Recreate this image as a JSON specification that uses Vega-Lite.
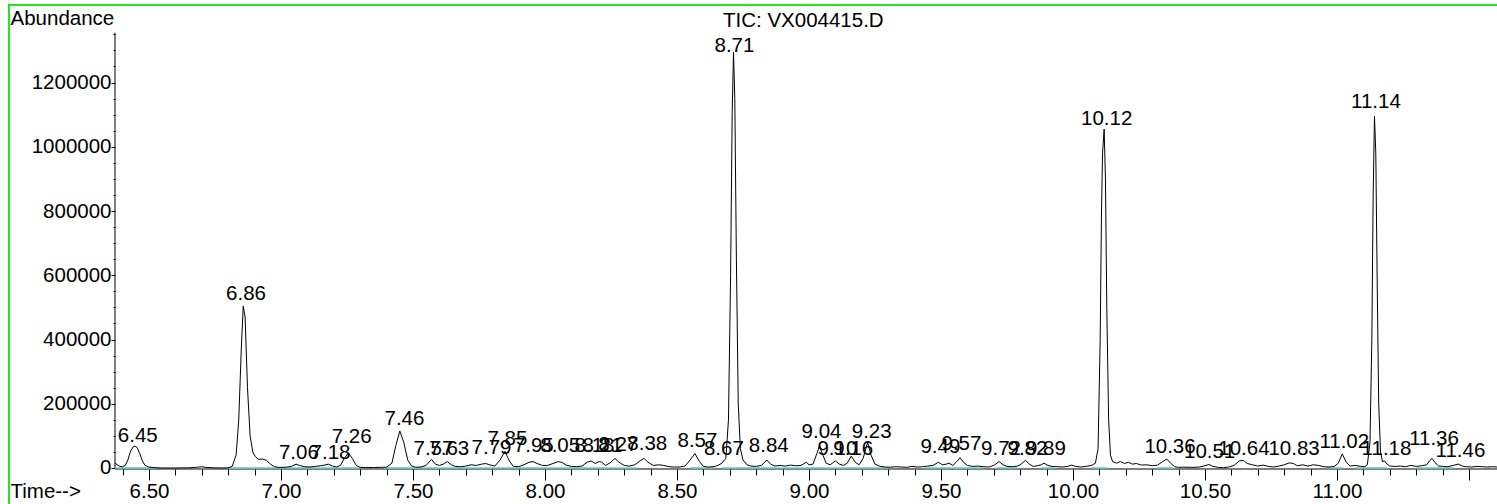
{
  "$schema": "https://vega.github.io/schema/vega-lite/v6.json",
  "width": 1488,
  "height": 499,
  "autosize": {"type": "none"},
  "padding": {"left": 9, "top": 5, "right": 0, "bottom": 0},
  "background": "white",
  "title": {"text": "TIC: VX004415.D", "anchor": "start", "frame": "group", "dx": 714, "offset": -40, "baseline": "middle", "font": "Liberation Sans", "fontSize": 20.5, "fontWeight": "normal", "color": "black"},
  "config": {"view": {"stroke": null}, "font": "Liberation Sans"},
  "datasets": {
    "trace": [
      {"t": 6.371, "a": 15000}, {"t": 6.38, "a": 10000}, {"t": 6.39, "a": 5000}, {"t": 6.40, "a": 4000}, {"t": 6.41, "a": 8000},
      {"t": 6.42, "a": 25000}, {"t": 6.43, "a": 52000}, {"t": 6.44, "a": 66000}, {"t": 6.447, "a": 68000}, {"t": 6.455, "a": 64000},
      {"t": 6.465, "a": 45000}, {"t": 6.475, "a": 22000}, {"t": 6.485, "a": 8000}, {"t": 6.50, "a": 3000}, {"t": 6.52, "a": 1000},
      {"t": 6.55, "a": 0}, {"t": 6.60, "a": 0}, {"t": 6.65, "a": 500}, {"t": 6.68, "a": 2000}, {"t": 6.70, "a": 4000},
      {"t": 6.72, "a": 1500}, {"t": 6.75, "a": 500}, {"t": 6.78, "a": 0}, {"t": 6.80, "a": 500}, {"t": 6.815, "a": 5000},
      {"t": 6.83, "a": 40000}, {"t": 6.84, "a": 150000}, {"t": 6.85, "a": 380000}, {"t": 6.857, "a": 504000}, {"t": 6.864, "a": 470000},
      {"t": 6.873, "a": 250000}, {"t": 6.883, "a": 100000}, {"t": 6.893, "a": 50000}, {"t": 6.903, "a": 35000}, {"t": 6.915, "a": 27000},
      {"t": 6.93, "a": 28000}, {"t": 6.945, "a": 24000}, {"t": 6.96, "a": 12000}, {"t": 6.975, "a": 4000}, {"t": 6.99, "a": 2000},
      {"t": 7.00, "a": 2000}, {"t": 7.02, "a": 2500}, {"t": 7.04, "a": 5000}, {"t": 7.057, "a": 12000}, {"t": 7.07, "a": 8000},
      {"t": 7.09, "a": 4000}, {"t": 7.11, "a": 3000}, {"t": 7.13, "a": 5000}, {"t": 7.15, "a": 7000}, {"t": 7.165, "a": 9000},
      {"t": 7.18, "a": 12000}, {"t": 7.195, "a": 6000}, {"t": 7.21, "a": 3000}, {"t": 7.225, "a": 8000}, {"t": 7.24, "a": 30000},
      {"t": 7.255, "a": 47000}, {"t": 7.27, "a": 30000}, {"t": 7.285, "a": 8000}, {"t": 7.30, "a": 2000}, {"t": 7.32, "a": 1500},
      {"t": 7.35, "a": 1500}, {"t": 7.38, "a": 2000}, {"t": 7.40, "a": 2500}, {"t": 7.42, "a": 15000}, {"t": 7.435, "a": 70000},
      {"t": 7.45, "a": 115000}, {"t": 7.465, "a": 80000}, {"t": 7.48, "a": 25000}, {"t": 7.495, "a": 6000}, {"t": 7.51, "a": 2500},
      {"t": 7.53, "a": 3000}, {"t": 7.55, "a": 8000}, {"t": 7.57, "a": 27000}, {"t": 7.585, "a": 12000}, {"t": 7.60, "a": 8000},
      {"t": 7.615, "a": 12000}, {"t": 7.63, "a": 20000}, {"t": 7.645, "a": 10000}, {"t": 7.66, "a": 5000}, {"t": 7.68, "a": 4000},
      {"t": 7.70, "a": 6000}, {"t": 7.72, "a": 10000}, {"t": 7.74, "a": 8000}, {"t": 7.76, "a": 12000}, {"t": 7.775, "a": 14000},
      {"t": 7.79, "a": 10000}, {"t": 7.81, "a": 6000}, {"t": 7.83, "a": 25000}, {"t": 7.848, "a": 52000}, {"t": 7.865, "a": 22000},
      {"t": 7.88, "a": 5000}, {"t": 7.90, "a": 4000}, {"t": 7.92, "a": 10000}, {"t": 7.94, "a": 18000}, {"t": 7.955, "a": 20000},
      {"t": 7.97, "a": 14000}, {"t": 7.99, "a": 8000}, {"t": 8.01, "a": 8000}, {"t": 8.03, "a": 14000}, {"t": 8.05, "a": 20000},
      {"t": 8.065, "a": 17000}, {"t": 8.08, "a": 9000}, {"t": 8.10, "a": 5000}, {"t": 8.12, "a": 4000}, {"t": 8.14, "a": 6000},
      {"t": 8.16, "a": 18000}, {"t": 8.175, "a": 22000}, {"t": 8.19, "a": 14000}, {"t": 8.205, "a": 20000}, {"t": 8.215, "a": 18000},
      {"t": 8.23, "a": 8000}, {"t": 8.25, "a": 18000}, {"t": 8.265, "a": 30000}, {"t": 8.28, "a": 18000}, {"t": 8.30, "a": 8000},
      {"t": 8.32, "a": 6000}, {"t": 8.34, "a": 10000}, {"t": 8.36, "a": 22000}, {"t": 8.375, "a": 30000}, {"t": 8.39, "a": 18000},
      {"t": 8.41, "a": 8000}, {"t": 8.43, "a": 10000}, {"t": 8.45, "a": 8000}, {"t": 8.47, "a": 4000}, {"t": 8.49, "a": 3000},
      {"t": 8.51, "a": 3000}, {"t": 8.53, "a": 6000}, {"t": 8.55, "a": 25000}, {"t": 8.568, "a": 45000}, {"t": 8.585, "a": 20000},
      {"t": 8.60, "a": 5000}, {"t": 8.62, "a": 3000}, {"t": 8.64, "a": 4000}, {"t": 8.655, "a": 8000}, {"t": 8.67, "a": 15000},
      {"t": 8.685, "a": 30000}, {"t": 8.695, "a": 150000}, {"t": 8.703, "a": 600000}, {"t": 8.709, "a": 1100000}, {"t": 8.714, "a": 1295000},
      {"t": 8.719, "a": 1150000}, {"t": 8.725, "a": 650000}, {"t": 8.732, "a": 200000}, {"t": 8.74, "a": 60000}, {"t": 8.75, "a": 25000},
      {"t": 8.765, "a": 10000}, {"t": 8.78, "a": 6000}, {"t": 8.80, "a": 5000}, {"t": 8.82, "a": 8000}, {"t": 8.84, "a": 25000},
      {"t": 8.855, "a": 12000}, {"t": 8.87, "a": 6000}, {"t": 8.89, "a": 8000}, {"t": 8.91, "a": 6000}, {"t": 8.93, "a": 9000},
      {"t": 8.95, "a": 7000}, {"t": 8.97, "a": 8000}, {"t": 8.99, "a": 18000}, {"t": 9.00, "a": 10000}, {"t": 9.015, "a": 12000},
      {"t": 9.03, "a": 45000}, {"t": 9.04, "a": 70000}, {"t": 9.05, "a": 45000}, {"t": 9.065, "a": 15000}, {"t": 9.08, "a": 10000},
      {"t": 9.10, "a": 22000}, {"t": 9.115, "a": 12000}, {"t": 9.13, "a": 8000}, {"t": 9.145, "a": 15000}, {"t": 9.16, "a": 37000},
      {"t": 9.175, "a": 18000}, {"t": 9.19, "a": 10000}, {"t": 9.205, "a": 30000}, {"t": 9.222, "a": 80000}, {"t": 9.235, "a": 40000},
      {"t": 9.25, "a": 12000}, {"t": 9.27, "a": 5000}, {"t": 9.29, "a": 3000}, {"t": 9.31, "a": 2500}, {"t": 9.33, "a": 4000},
      {"t": 9.35, "a": 3000}, {"t": 9.37, "a": 2000}, {"t": 9.39, "a": 5000}, {"t": 9.41, "a": 3000}, {"t": 9.43, "a": 4000},
      {"t": 9.45, "a": 6000}, {"t": 9.47, "a": 8000}, {"t": 9.49, "a": 18000}, {"t": 9.505, "a": 10000}, {"t": 9.52, "a": 12000},
      {"t": 9.53, "a": 15000}, {"t": 9.545, "a": 8000}, {"t": 9.56, "a": 20000}, {"t": 9.572, "a": 32000}, {"t": 9.585, "a": 18000},
      {"t": 9.60, "a": 8000}, {"t": 9.62, "a": 5000}, {"t": 9.64, "a": 6000}, {"t": 9.66, "a": 4000}, {"t": 9.68, "a": 3000},
      {"t": 9.70, "a": 8000}, {"t": 9.72, "a": 20000}, {"t": 9.735, "a": 10000}, {"t": 9.75, "a": 5000}, {"t": 9.77, "a": 4000},
      {"t": 9.79, "a": 6000}, {"t": 9.80, "a": 10000}, {"t": 9.82, "a": 24000}, {"t": 9.835, "a": 12000}, {"t": 9.85, "a": 5000},
      {"t": 9.865, "a": 7000}, {"t": 9.88, "a": 10000}, {"t": 9.89, "a": 15000}, {"t": 9.905, "a": 8000}, {"t": 9.92, "a": 5000},
      {"t": 9.94, "a": 4000}, {"t": 9.96, "a": 3000}, {"t": 9.98, "a": 5000}, {"t": 9.995, "a": 9000}, {"t": 10.01, "a": 5000},
      {"t": 10.03, "a": 3000}, {"t": 10.05, "a": 5000}, {"t": 10.07, "a": 8000}, {"t": 10.085, "a": 15000}, {"t": 10.095, "a": 60000},
      {"t": 10.103, "a": 400000}, {"t": 10.108, "a": 800000}, {"t": 10.112, "a": 980000}, {"t": 10.118, "a": 1055000}, {"t": 10.123, "a": 900000},
      {"t": 10.128, "a": 500000}, {"t": 10.135, "a": 150000}, {"t": 10.142, "a": 40000}, {"t": 10.15, "a": 20000}, {"t": 10.165, "a": 15000},
      {"t": 10.18, "a": 20000}, {"t": 10.195, "a": 14000}, {"t": 10.21, "a": 18000}, {"t": 10.225, "a": 12000}, {"t": 10.24, "a": 14000},
      {"t": 10.26, "a": 9000}, {"t": 10.28, "a": 10000}, {"t": 10.30, "a": 7000}, {"t": 10.32, "a": 9000}, {"t": 10.34, "a": 20000},
      {"t": 10.355, "a": 28000}, {"t": 10.37, "a": 15000}, {"t": 10.385, "a": 4000}, {"t": 10.40, "a": 2000}, {"t": 10.42, "a": 2500},
      {"t": 10.45, "a": 2000}, {"t": 10.48, "a": 3000}, {"t": 10.50, "a": 7000}, {"t": 10.515, "a": 11000}, {"t": 10.53, "a": 5000},
      {"t": 10.55, "a": 2000}, {"t": 10.57, "a": 1000}, {"t": 10.59, "a": 3000}, {"t": 10.61, "a": 8000}, {"t": 10.63, "a": 22000},
      {"t": 10.645, "a": 24000}, {"t": 10.66, "a": 14000}, {"t": 10.68, "a": 10000}, {"t": 10.70, "a": 6000}, {"t": 10.72, "a": 9000},
      {"t": 10.74, "a": 5000}, {"t": 10.76, "a": 3000}, {"t": 10.78, "a": 6000}, {"t": 10.80, "a": 10000}, {"t": 10.82, "a": 16000},
      {"t": 10.835, "a": 14000}, {"t": 10.85, "a": 7000}, {"t": 10.87, "a": 10000}, {"t": 10.89, "a": 6000}, {"t": 10.91, "a": 10000},
      {"t": 10.93, "a": 8000}, {"t": 10.95, "a": 4000}, {"t": 10.97, "a": 3000}, {"t": 10.99, "a": 5000}, {"t": 11.005, "a": 15000},
      {"t": 11.02, "a": 44000}, {"t": 11.035, "a": 18000}, {"t": 11.05, "a": 6000}, {"t": 11.07, "a": 8000}, {"t": 11.09, "a": 5000},
      {"t": 11.105, "a": 4000}, {"t": 11.115, "a": 10000}, {"t": 11.125, "a": 80000}, {"t": 11.132, "a": 400000}, {"t": 11.137, "a": 850000},
      {"t": 11.142, "a": 1095000}, {"t": 11.147, "a": 980000}, {"t": 11.152, "a": 600000}, {"t": 11.158, "a": 200000}, {"t": 11.165, "a": 50000},
      {"t": 11.172, "a": 20000}, {"t": 11.18, "a": 22000}, {"t": 11.19, "a": 12000}, {"t": 11.20, "a": 6000}, {"t": 11.22, "a": 5000},
      {"t": 11.24, "a": 6000}, {"t": 11.26, "a": 4000}, {"t": 11.28, "a": 8000}, {"t": 11.30, "a": 5000}, {"t": 11.32, "a": 7000},
      {"t": 11.34, "a": 10000}, {"t": 11.35, "a": 22000}, {"t": 11.36, "a": 30000}, {"t": 11.37, "a": 18000}, {"t": 11.385, "a": 6000},
      {"t": 11.40, "a": 5000}, {"t": 11.42, "a": 4000}, {"t": 11.44, "a": 8000}, {"t": 11.46, "a": 12000}, {"t": 11.475, "a": 6000},
      {"t": 11.49, "a": 4000}, {"t": 11.51, "a": 3000}, {"t": 11.53, "a": 5000}, {"t": 11.55, "a": 4000}, {"t": 11.57, "a": 3000},
      {"t": 11.59, "a": 4000}, {"t": 11.606, "a": 3000}
    ],
    "baselines": [
      {"t": 6.371, "t2": 6.53, "a": 0}, {"t": 6.80, "t2": 7.30, "a": 0}, {"t": 7.39, "t2": 8.20, "a": 0},
      {"t": 8.20, "t2": 8.35, "a": 0}, {"t": 8.55, "t2": 8.64, "a": 0}, {"t": 8.67, "t2": 9.30, "a": 0},
      {"t": 9.44, "t2": 9.66, "a": 0}, {"t": 9.71, "t2": 9.79, "a": 0}, {"t": 9.88, "t2": 9.93, "a": 0},
      {"t": 10.07, "t2": 10.13, "a": 0}, {"t": 10.32, "t2": 10.38, "a": 0}, {"t": 10.96, "t2": 11.02, "a": 0},
      {"t": 11.07, "t2": 11.19, "a": 0}, {"t": 11.30, "t2": 11.44, "a": 0}
    ],
    "axislines": [
      {"t": 6.3712, "t2": 11.6061, "a": -3113, "a2": -3113},
      {"t": 6.3712, "t2": 6.3712, "a": -3113, "a2": 1355000}
    ],
    "frame": [
      {"t": 5.9697, "a": -112070, "o": 0},
      {"t": 5.9697, "a": 1441300, "o": 1},
      {"t": 11.6061, "a": 1441300, "o": 2}
    ],
    "peaks": [
      {"t": 6.45, "a": 80900, "label": "6.45"}, {"t": 6.86, "a": 523000, "label": "6.86"},
      {"t": 7.06, "a": 28000, "label": "7.06"}, {"t": 7.18, "a": 28000, "label": "7.18"},
      {"t": 7.26, "a": 77800, "label": "7.26"}, {"t": 7.46, "a": 133900, "label": "7.46"},
      {"t": 7.57, "a": 40500, "label": "7.57"}, {"t": 7.63, "a": 40500, "label": "7.63"},
      {"t": 7.79, "a": 43600, "label": "7.79"}, {"t": 7.85, "a": 71600, "label": "7.85"},
      {"t": 7.95, "a": 49800, "label": "7.95"}, {"t": 8.05, "a": 49800, "label": "8.05"},
      {"t": 8.18, "a": 49800, "label": "8.18"}, {"t": 8.21, "a": 49800, "label": "8.21"},
      {"t": 8.27, "a": 52900, "label": "8.27"}, {"t": 8.38, "a": 56000, "label": "8.38"},
      {"t": 8.57, "a": 65400, "label": "8.57"}, {"t": 8.67, "a": 40500, "label": "8.67"},
      {"t": 8.71, "a": 1295000, "label": "8.71"}, {"t": 8.84, "a": 49800, "label": "8.84"},
      {"t": 9.04, "a": 93400, "label": "9.04"}, {"t": 9.10, "a": 40500, "label": "9.10"},
      {"t": 9.16, "a": 40500, "label": "9.16"}, {"t": 9.23, "a": 93400, "label": "9.23"},
      {"t": 9.49, "a": 46700, "label": "9.49"}, {"t": 9.57, "a": 56000, "label": "9.57"},
      {"t": 9.72, "a": 40500, "label": "9.72"}, {"t": 9.82, "a": 40500, "label": "9.82"},
      {"t": 9.89, "a": 40500, "label": "9.89"}, {"t": 10.12, "a": 1067800, "label": "10.12"},
      {"t": 10.36, "a": 46700, "label": "10.36"}, {"t": 10.51, "a": 31100, "label": "10.51"},
      {"t": 10.64, "a": 40500, "label": "10.64"}, {"t": 10.83, "a": 40500, "label": "10.83"},
      {"t": 11.02, "a": 62300, "label": "11.02"}, {"t": 11.14, "a": 1120700, "label": "11.14"},
      {"t": 11.18, "a": 40500, "label": "11.18"}, {"t": 11.36, "a": 71600, "label": "11.36"},
      {"t": 11.46, "a": 34200, "label": "11.46"}
    ]
  },
  "encoding": {
    "x": {
      "field": "t", "type": "quantitative",
      "scale": {"domain": [5.9697, 11.6061], "nice": false, "zero": false},
      "axis": {
        "orient": "bottom", "offset": -35, "domain": false, "grid": false,
        "values": [6.4, 6.5, 6.6, 6.7, 6.8, 6.9, 7.0, 7.1, 7.2, 7.3, 7.4, 7.5, 7.6, 7.7, 7.8, 7.9, 8.0, 8.1, 8.2, 8.3, 8.4, 8.5, 8.6, 8.7, 8.8, 8.9, 9.0, 9.1, 9.2, 9.3, 9.4, 9.5, 9.6, 9.7, 9.8, 9.9, 10.0, 10.1, 10.2, 10.3, 10.4, 10.5, 10.6, 10.7, 10.8, 10.9, 11.0, 11.1, 11.2, 11.3, 11.4, 11.5],
        "format": ".2f",
        "labelExpr": "(abs(datum.value*2 - round(datum.value*2)) < 0.001 && datum.value < 11.45) ? datum.label : ''",
        "tickSize": {"condition": {"test": "abs(datum.value*2 - round(datum.value*2)) < 0.001", "value": 11}, "value": 6},
        "tickColor": "black", "tickWidth": 1,
        "labelFont": "Liberation Sans", "labelFontSize": 20.5, "labelColor": "black", "labelPadding": 1,
        "labelOverlap": false, "labelFlush": false,
        "title": "Time-->", "titleFont": "Liberation Sans", "titleFontSize": 20.5, "titleFontWeight": "normal", "titleColor": "black",
        "titleAlign": "left", "titleBaseline": "middle", "titleX": 1, "titleY": 22, "titleAngle": 0
      }
    },
    "y": {
      "field": "a", "type": "quantitative",
      "scale": {"domain": [-112070, 1441300], "nice": false, "zero": false},
      "axis": {
        "orient": "left", "offset": -106, "domain": false, "grid": false,
        "values": [0, 50000, 100000, 150000, 200000, 250000, 300000, 350000, 400000, 450000, 500000, 550000, 600000, 650000, 700000, 750000, 800000, 850000, 900000, 950000, 1000000, 1050000, 1100000, 1150000, 1200000, 1250000, 1300000, 1350000],
        "format": "d",
        "labelExpr": "(datum.value % 200000 === 0) ? datum.label : ''",
        "tickSize": {"condition": {"test": "datum.value % 200000 === 0", "value": 4}, "value": 2},
        "tickColor": "black", "tickWidth": 1,
        "labelFont": "Liberation Sans", "labelFontSize": 20.5, "labelColor": "black", "labelPadding": 0,
        "labelOverlap": false, "labelFlush": false,
        "title": "Abundance", "titleFont": "Liberation Sans", "titleFontSize": 20.5, "titleFontWeight": "normal", "titleColor": "black",
        "titleAngle": 0, "titleAlign": "left", "titleBaseline": "middle", "titleX": -105, "titleY": 13
      }
    }
  },
  "layer": [
    {
      "data": {"name": "frame"},
      "mark": {"type": "line", "color": "#22e622", "strokeWidth": 2, "strokeCap": "butt"},
      "encoding": {"order": {"field": "o", "type": "quantitative"}}
    },
    {
      "data": {"name": "axislines"},
      "mark": {"type": "rule", "color": "black", "strokeWidth": 1},
      "encoding": {"x2": {"field": "t2"}, "y2": {"field": "a2"}}
    },
    {
      "data": {"name": "baselines"},
      "mark": {"type": "rule", "color": "#5ccccc", "strokeWidth": 1.5},
      "encoding": {"x2": {"field": "t2"}}
    },
    {
      "data": {"name": "trace"},
      "mark": {"type": "line", "color": "black", "strokeWidth": 1, "interpolate": "linear"},
      "encoding": {}
    },
    {
      "data": {"name": "peaks"},
      "mark": {"type": "text", "font": "Liberation Sans", "fontSize": 20.5, "color": "black", "align": "center", "baseline": "alphabetic", "dx": 2},
      "encoding": {"text": {"field": "label"}}
    }
  ]
}
